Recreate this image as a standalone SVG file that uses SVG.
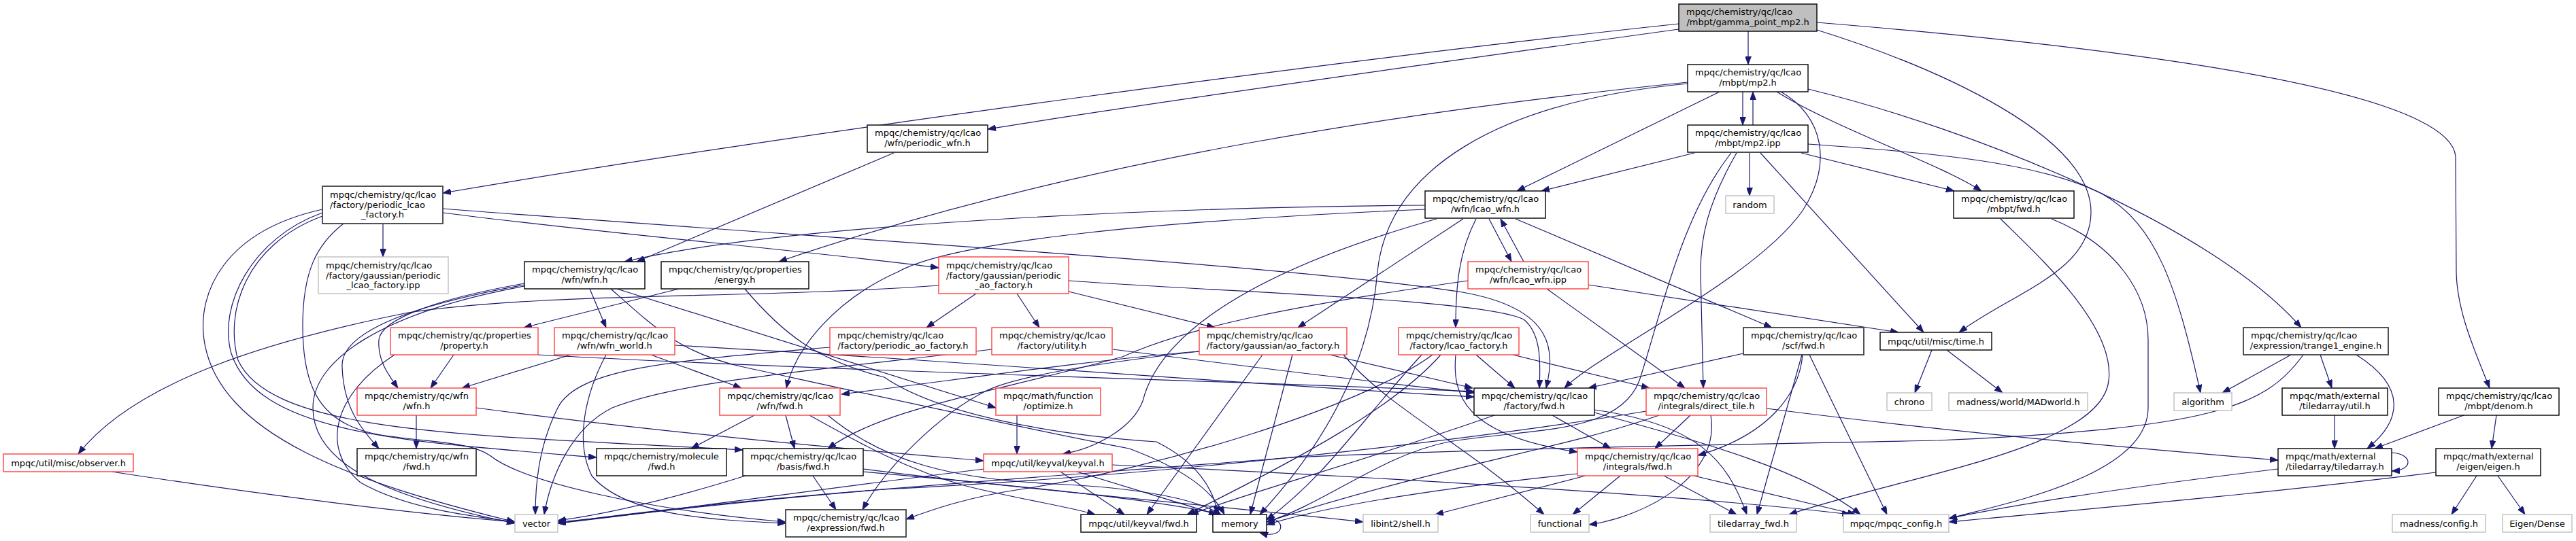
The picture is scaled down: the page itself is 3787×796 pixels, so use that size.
<svg xmlns="http://www.w3.org/2000/svg" width="3787" height="796" viewBox="0 0 3787 796">
<defs>
<marker id="a" markerUnits="userSpaceOnUse" markerWidth="12" markerHeight="9" refX="12" refY="4.5" orient="auto">
<path d="M0,0 L12,4.5 L0,9 z" fill="#191970" stroke="#191970" stroke-width="0.8"/>
</marker>
</defs>
<style>
text{font-family:"DejaVu Sans","Liberation Sans",sans-serif;font-size:13px;fill:#000}
.m{text-anchor:middle}
rect{fill:#fff;stroke-width:1.4}
.b rect{stroke:#000}
.d rect{stroke:#404040;stroke-width:1.8}
.r rect{stroke:#ff4040}
.g rect{stroke:#bfbfbf}
.s rect{fill:#bfbfbf;stroke:#000}
#edges path{fill:none;stroke:#191970;stroke-width:1.2;marker-end:url(#a)}
</style>
<rect x="0" y="0" width="3787" height="796" style="fill:#fff;stroke:none"/>
<g id="edges">
<path d="M2570,46 L2570,95"/>
<path d="M2468,35 C2000,85 1200,190 651,284"/>
<path d="M2468,43 C2200,80 1700,150 1452,190"/>
<path d="M2671,44 C2850,100 3075,200 3074,313 C3073,400 2960,430 2880,489"/>
<path d="M2671,33 C3000,60 3600,120 3610,230 L3611,400 C3612,460 3640,520 3660,571"/>
<path d="M2562,135 L2562,184"/>
<path d="M2577,184 L2577,135"/>
<path d="M2528,135 L2230,281"/>
<path d="M2491,225 L2266,281"/>
<path d="M2481,121 C2100,160 1600,230 1145,385"/>
<path d="M2481,123 C2200,150 2040,250 2025,400 C2015,520 1960,640 1852,757"/>
<path d="M2658,131 C2900,190 3250,330 3383,482"/>
<path d="M2612,135 C2700,190 2850,240 2913,281"/>
<path d="M2648,225 L2873,281"/>
<path d="M2618,135 C2680,170 2695,240 2650,310 C2580,410 2350,520 2300,571"/>
<path d="M2658,212 C2850,225 3000,240 3090,285 C3170,330 3200,420 3235,578"/>
<path d="M2572,225 L2572,288"/>
<path d="M2553,225 C2510,300 2500,350 2500,400 L2504,571"/>
<path d="M2588,225 L2828,489"/>
<path d="M2545,225 C2470,320 2440,470 2410,560 C2380,640 2250,630 2130,650 C2030,670 1950,740 1862,768"/>
<path d="M563,329 L563,378"/>
<path d="M651,313 C900,345 1200,370 1380,394"/>
<path d="M651,307 C1200,350 1900,390 2150,430 C2290,455 2285,520 2273,571"/>
<path d="M474,308 C330,340 290,430 300,500 C320,640 520,710 757,768"/>
<path d="M474,313 C370,350 320,450 340,520 C380,640 600,650 877,673"/>
<path d="M505,329 C465,360 445,400 445,480 C445,570 470,625 560,640 C640,652 690,650 720,670 C770,710 950,750 1155,768"/>
<path d="M474,318 C360,360 330,460 350,530 C400,640 700,640 1092,662"/>
<path d="M1314,225 L936,385"/>
<path d="M2095,302 C1700,305 1150,330 918,385"/>
<path d="M2095,308 C1700,325 1400,355 1320,400 C1230,440 1170,510 1156,571"/>
<path d="M2189,322 L2222,385"/>
<path d="M2240,385 L2206,322"/>
<path d="M2151,322 L1908,482"/>
<path d="M2170,322 C2145,370 2140,420 2140,482"/>
<path d="M2228,322 L2605,482"/>
<path d="M2112,322 C1800,410 1700,510 1680,590 C1665,630 1610,660 1562,668"/>
<path d="M2335,419 L2791,489"/>
<path d="M2274,425 L2477,571"/>
<path d="M2158,413 C1900,450 1750,480 1650,525 C1450,580 1300,600 1217,660"/>
<path d="M867,425 L891,482"/>
<path d="M771,417 C640,440 560,470 557,500 C555,530 570,550 585,571"/>
<path d="M771,419 C600,450 500,490 503,540 C505,600 530,630 557,660"/>
<path d="M771,421 C560,460 460,530 460,600 C460,680 560,730 757,770"/>
<path d="M907,425 L1464,600"/>
<path d="M898,425 C960,480 1000,520 1093,540 C1300,585 1550,640 1660,660 C1740,690 1780,720 1800,757"/>
<path d="M998,425 L770,482"/>
<path d="M1095,425 C1150,490 1200,530 1300,555 C1380,610 1550,640 1700,650 C1760,680 1785,720 1790,757"/>
<path d="M1380,420 C1100,440 800,430 600,460 C400,500 200,560 115,668"/>
<path d="M1435,432 L1362,482"/>
<path d="M1495,432 L1528,482"/>
<path d="M1571,429 L1786,482"/>
<path d="M1571,413 C1800,430 2180,440 2240,470 C2265,490 2265,530 2263,571"/>
<path d="M667,522 L633,571"/>
<path d="M580,522 C490,580 470,660 530,710 C600,750 700,760 757,768"/>
<path d="M791,522 C1200,545 1800,560 2167,576"/>
<path d="M839,522 L679,571"/>
<path d="M957,522 L1090,571"/>
<path d="M992,508 C1400,530 1900,570 2167,584"/>
<path d="M891,522 C860,580 845,650 870,700 C920,760 1050,765 1155,770"/>
<path d="M1220,511 C1000,530 850,540 820,600 C790,660 787,720 787,757"/>
<path d="M1636,514 C1800,535 2000,560 2167,578"/>
<path d="M1458,514 C1200,545 1000,560 900,600 C840,630 810,700 800,757"/>
<path d="M1955,522 L2165,571"/>
<path d="M1763,517 C1600,530 1400,560 1237,580"/>
<path d="M1763,517 C1650,530 1500,550 1450,575 C1380,610 1300,690 1268,750"/>
<path d="M1856,522 L1686,757"/>
<path d="M1900,522 L1838,757"/>
<path d="M1975,522 C2040,600 2150,650 2270,757"/>
<path d="M2170,522 L2227,571"/>
<path d="M2224,522 L2425,571"/>
<path d="M2140,522 C2135,580 2150,640 2319,665"/>
<path d="M2106,522 C2000,600 1700,690 1500,720 C1420,732 1370,750 1332,764"/>
<path d="M2118,522 C2050,600 1900,680 1745,757"/>
<path d="M2090,522 C2000,620 1950,700 1862,765"/>
<path d="M2563,520 L2335,571"/>
<path d="M2650,522 C2645,580 2600,640 2496,670"/>
<path d="M2649,522 L2583,757"/>
<path d="M2660,522 L2774,757"/>
<path d="M2840,515 L2815,578"/>
<path d="M2862,515 L2944,578"/>
<path d="M3368,522 L3267,578"/>
<path d="M3411,522 L3428,571"/>
<path d="M3464,522 C3540,570 3530,620 3480,660"/>
<path d="M3386,522 C3330,600 3250,630 2850,648 C2500,655 2200,660 1900,673 C1500,705 1100,730 820,770"/>
<path d="M612,611 L612,660"/>
<path d="M700,600 C1000,640 1300,665 1446,678"/>
<path d="M1109,611 L1016,660"/>
<path d="M1155,611 L1168,660"/>
<path d="M1190,611 C1260,650 1330,690 1420,715 C1500,735 1570,745 1610,757"/>
<path d="M1217,611 C1300,680 1400,705 1550,712 C1680,718 1760,735 1795,757"/>
<path d="M1495,611 L1495,668"/>
<path d="M2282,611 L2368,660"/>
<path d="M2344,603 C2500,625 2540,680 2568,757"/>
<path d="M2344,607 C2500,650 2650,690 2735,757"/>
<path d="M2197,611 C2000,680 1850,720 1750,757"/>
<path d="M2485,611 L2433,660"/>
<path d="M2515,611 C2530,700 2420,760 2336,772"/>
<path d="M2597,601 C2900,640 3200,665 3349,677"/>
<path d="M2420,605 C2150,650 1700,700 1300,720 C1050,740 900,762 820,768"/>
<path d="M2439,611 C2300,660 2100,690 1862,768"/>
<path d="M2331,700 L2110,757"/>
<path d="M2382,700 L2312,757"/>
<path d="M2446,700 L2553,757"/>
<path d="M2490,700 L2728,757"/>
<path d="M2319,697 C2100,720 1950,745 1862,772"/>
<path d="M3516,666 C3548,668 3548,692 3516,693"/>
<path d="M3349,690 C3100,720 2950,745 2865,763"/>
<path d="M3432,611 L3432,660"/>
<path d="M3622,611 L3491,660"/>
<path d="M3670,611 L3663,660"/>
<path d="M3641,700 L3604,757"/>
<path d="M3672,700 L3712,757"/>
<path d="M3581,695 C3300,730 3000,755 2865,768"/>
<path d="M2941,322 C3000,380 3110,480 3100,560 C3090,660 2800,700 2630,757"/>
<path d="M3016,322 C3110,360 3158,430 3158,500 L3158,600 C3158,700 2950,740 2865,763"/>
<path d="M1559,694 L1653,757"/>
<path d="M1583,694 L1789,757"/>
<path d="M1447,690 C1200,720 1000,750 820,770"/>
<path d="M1635,684 C2000,700 2500,730 2720,757"/>
<path d="M1195,700 L1229,750"/>
<path d="M1096,700 C1000,730 900,755 820,766"/>
<path d="M1269,690 C1500,720 1800,745 2004,768"/>
<path d="M1269,694 C1500,715 1700,735 1795,757"/>
<path d="M164,694 C400,730 600,755 757,768"/>
<path d="M1862,762 C1892,762 1890,795 1852,784"/>
</g>
<g id="n_gamma" class="s"><rect x="2468" y="6" width="203" height="40"/><text x="2479" y="22.3">mpqc/chemistry/qc/lcao</text><text class="m" x="2569.5" y="37.3">/mbpt/gamma_point_mp2.h</text></g>
<g id="n_mp2h" class="b"><rect x="2481" y="95" width="177" height="40"/><text x="2492" y="111.3">mpqc/chemistry/qc/lcao</text><text class="m" x="2569.5" y="126.3">/mbpt/mp2.h</text></g>
<g id="n_mp2ipp" class="b"><rect x="2481" y="184" width="177" height="40"/><text x="2492" y="200.3">mpqc/chemistry/qc/lcao</text><text class="m" x="2569.5" y="215.3">/mbpt/mp2.ipp</text></g>
<g id="n_plf" class="d"><rect x="474" y="274" width="177" height="55"/><text x="485" y="290.5">mpqc/chemistry/qc/lcao</text><text x="485" y="305.5">/factory/periodic_lcao</text><text class="m" x="562.5" y="320">_factory.h</text></g>
<g id="n_pwfn" class="b"><rect x="1275" y="184" width="177" height="40"/><text x="1286" y="200.3">mpqc/chemistry/qc/lcao</text><text class="m" x="1363.5" y="215.3">/wfn/periodic_wfn.h</text></g>
<g id="n_lcaowfn" class="b"><rect x="2095" y="281" width="177" height="40"/><text x="2106" y="297.3">mpqc/chemistry/qc/lcao</text><text class="m" x="2183.5" y="312.3">/wfn/lcao_wfn.h</text></g>
<g id="n_random" class="g"><rect x="2537" y="288" width="71" height="26"/><text class="m" x="2572.5" y="305.5">random</text></g>
<g id="n_mbptfwd" class="b"><rect x="2872" y="281" width="177" height="40"/><text x="2883" y="297.3">mpqc/chemistry/qc/lcao</text><text class="m" x="2960.5" y="312.3">/mbpt/fwd.h</text></g>
<g id="n_plfipp" class="g"><rect x="468" y="378" width="191" height="54"/><text x="479" y="394.5">mpqc/chemistry/qc/lcao</text><text x="479" y="409.5">/factory/gaussian/periodic</text><text class="m" x="563.5" y="424">_lcao_factory.ipp</text></g>
<g id="n_lwfn" class="b"><rect x="771" y="385" width="177" height="40"/><text x="782" y="401.3">mpqc/chemistry/qc/lcao</text><text class="m" x="859.5" y="416.3">/wfn/wfn.h</text></g>
<g id="n_energy" class="b"><rect x="972" y="385" width="217" height="40"/><text x="983" y="401.3">mpqc/chemistry/qc/properties</text><text class="m" x="1080.5" y="416.3">/energy.h</text></g>
<g id="n_gpaf" class="r"><rect x="1380" y="378" width="191" height="54"/><text x="1391" y="394.5">mpqc/chemistry/qc/lcao</text><text x="1391" y="409.5">/factory/gaussian/periodic</text><text class="m" x="1475.5" y="424">_ao_factory.h</text></g>
<g id="n_lwfnipp" class="r"><rect x="2158" y="385" width="177" height="40"/><text x="2169" y="401.3">mpqc/chemistry/qc/lcao</text><text class="m" x="2246.5" y="416.3">/wfn/lcao_wfn.ipp</text></g>
<g id="n_property" class="r"><rect x="574" y="482" width="217" height="40"/><text x="585" y="498.3">mpqc/chemistry/qc/properties</text><text class="m" x="682.5" y="513.3">/property.h</text></g>
<g id="n_wfnworld" class="r"><rect x="815" y="482" width="177" height="40"/><text x="826" y="498.3">mpqc/chemistry/qc/lcao</text><text class="m" x="903.5" y="513.3">/wfn/wfn_world.h</text></g>
<g id="n_paf" class="r"><rect x="1220" y="482" width="215" height="40"/><text x="1231" y="498.3">mpqc/chemistry/qc/lcao</text><text class="m" x="1327.5" y="513.3">/factory/periodic_ao_factory.h</text></g>
<g id="n_util" class="r"><rect x="1458" y="482" width="177" height="40"/><text x="1469" y="498.3">mpqc/chemistry/qc/lcao</text><text class="m" x="1546.5" y="513.3">/factory/utility.h</text></g>
<g id="n_aof" class="r"><rect x="1763" y="482" width="217" height="40"/><text x="1774" y="498.3">mpqc/chemistry/qc/lcao</text><text class="m" x="1871.5" y="513.3">/factory/gaussian/ao_factory.h</text></g>
<g id="n_lcaofact" class="r"><rect x="2056" y="482" width="177" height="40"/><text x="2067" y="498.3">mpqc/chemistry/qc/lcao</text><text class="m" x="2144.5" y="513.3">/factory/lcao_factory.h</text></g>
<g id="n_scffwd" class="d"><rect x="2563" y="482" width="177" height="40"/><text x="2574" y="498.3">mpqc/chemistry/qc/lcao</text><text class="m" x="2651.5" y="513.3">/scf/fwd.h</text></g>
<g id="n_time" class="b"><rect x="2764" y="489" width="164" height="26"/><text class="m" x="2846" y="506.5">mpqc/util/misc/time.h</text></g>
<g id="n_trange1" class="d"><rect x="3298" y="482" width="213" height="40"/><text x="3309" y="498.3">mpqc/chemistry/qc/lcao</text><text class="m" x="3404.5" y="513.3">/expression/trange1_engine.h</text></g>
<g id="n_qcwfn" class="r"><rect x="525" y="571" width="175" height="40"/><text x="536" y="587.3">mpqc/chemistry/qc/wfn</text><text class="m" x="612.5" y="602.3">/wfn.h</text></g>
<g id="n_lwfnfwd" class="r"><rect x="1058" y="571" width="177" height="40"/><text x="1069" y="587.3">mpqc/chemistry/qc/lcao</text><text class="m" x="1146.5" y="602.3">/wfn/fwd.h</text></g>
<g id="n_optimize" class="r"><rect x="1464" y="571" width="154" height="40"/><text x="1475" y="587.3">mpqc/math/function</text><text class="m" x="1541" y="602.3">/optimize.h</text></g>
<g id="n_factfwd" class="b"><rect x="2167" y="571" width="177" height="40"/><text x="2178" y="587.3">mpqc/chemistry/qc/lcao</text><text class="m" x="2255.5" y="602.3">/factory/fwd.h</text></g>
<g id="n_directtile" class="r"><rect x="2420" y="571" width="177" height="40"/><text x="2431" y="587.3">mpqc/chemistry/qc/lcao</text><text class="m" x="2508.5" y="602.3">/integrals/direct_tile.h</text></g>
<g id="n_chrono" class="g"><rect x="2774" y="578" width="66" height="26"/><text class="m" x="2807" y="595.5">chrono</text></g>
<g id="n_madworld" class="g"><rect x="2865" y="578" width="204" height="26"/><text class="m" x="2967" y="595.5">madness/world/MADworld.h</text></g>
<g id="n_algorithm" class="g"><rect x="3196" y="578" width="85" height="26"/><text class="m" x="3238.5" y="595.5">algorithm</text></g>
<g id="n_tautil" class="b"><rect x="3355" y="571" width="155" height="40"/><text x="3366" y="587.3">mpqc/math/external</text><text class="m" x="3432.5" y="602.3">/tiledarray/util.h</text></g>
<g id="n_denom" class="b"><rect x="3585" y="571" width="177" height="40"/><text x="3596" y="587.3">mpqc/chemistry/qc/lcao</text><text class="m" x="3673.5" y="602.3">/mbpt/denom.h</text></g>
<g id="n_observer" class="r"><rect x="5" y="668" width="191" height="26"/><text class="m" x="100.5" y="685.5">mpqc/util/misc/observer.h</text></g>
<g id="n_qcwfnfwd" class="b"><rect x="525" y="660" width="175" height="40"/><text x="536" y="676.3">mpqc/chemistry/qc/wfn</text><text class="m" x="612.5" y="691.3">/fwd.h</text></g>
<g id="n_molfwd" class="b"><rect x="877" y="660" width="191" height="40"/><text x="888" y="676.3">mpqc/chemistry/molecule</text><text class="m" x="972.5" y="691.3">/fwd.h</text></g>
<g id="n_basisfwd" class="b"><rect x="1092" y="660" width="177" height="40"/><text x="1103" y="676.3">mpqc/chemistry/qc/lcao</text><text class="m" x="1180.5" y="691.3">/basis/fwd.h</text></g>
<g id="n_keyval" class="r"><rect x="1446" y="668" width="189" height="26"/><text class="m" x="1540.5" y="685.5">mpqc/util/keyval/keyval.h</text></g>
<g id="n_integrals" class="r"><rect x="2319" y="660" width="177" height="40"/><text x="2330" y="676.3">mpqc/chemistry/qc/lcao</text><text class="m" x="2407.5" y="691.3">/integrals/fwd.h</text></g>
<g id="n_tiledarray" class="b"><rect x="3349" y="660" width="167" height="40"/><text x="3360" y="676.3">mpqc/math/external</text><text class="m" x="3432.5" y="691.3">/tiledarray/tiledarray.h</text></g>
<g id="n_eigen" class="b"><rect x="3581" y="660" width="154" height="40"/><text x="3592" y="676.3">mpqc/math/external</text><text class="m" x="3658" y="691.3">/eigen/eigen.h</text></g>
<g id="n_vector" class="g"><rect x="757" y="757" width="63" height="26"/><text class="m" x="788.5" y="774.5">vector</text></g>
<g id="n_exprfwd" class="d"><rect x="1155" y="750" width="177" height="40"/><text x="1166" y="766.3">mpqc/chemistry/qc/lcao</text><text class="m" x="1243.5" y="781.3">/expression/fwd.h</text></g>
<g id="n_keyvalfwd" class="b"><rect x="1589" y="757" width="170" height="26"/><text class="m" x="1674" y="774.5">mpqc/util/keyval/fwd.h</text></g>
<g id="n_memory" class="b"><rect x="1783" y="757" width="79" height="26"/><text class="m" x="1822.5" y="774.5">memory</text></g>
<g id="n_libint" class="g"><rect x="2004" y="757" width="110" height="26"/><text class="m" x="2059" y="774.5">libint2/shell.h</text></g>
<g id="n_functional" class="g"><rect x="2250" y="757" width="86" height="26"/><text class="m" x="2293" y="774.5">functional</text></g>
<g id="n_tafwd" class="g"><rect x="2514" y="757" width="127" height="26"/><text class="m" x="2577.5" y="774.5">tiledarray_fwd.h</text></g>
<g id="n_mpqcconfig" class="g"><rect x="2710" y="757" width="155" height="26"/><text class="m" x="2787.5" y="774.5">mpqc/mpqc_config.h</text></g>
<g id="n_madconfig" class="g"><rect x="3517" y="757" width="137" height="26"/><text class="m" x="3585.5" y="774.5">madness/config.h</text></g>
<g id="n_eigendense" class="g"><rect x="3679" y="757" width="102" height="26"/><text class="m" x="3730" y="774.5">Eigen/Dense</text></g>
</svg>
